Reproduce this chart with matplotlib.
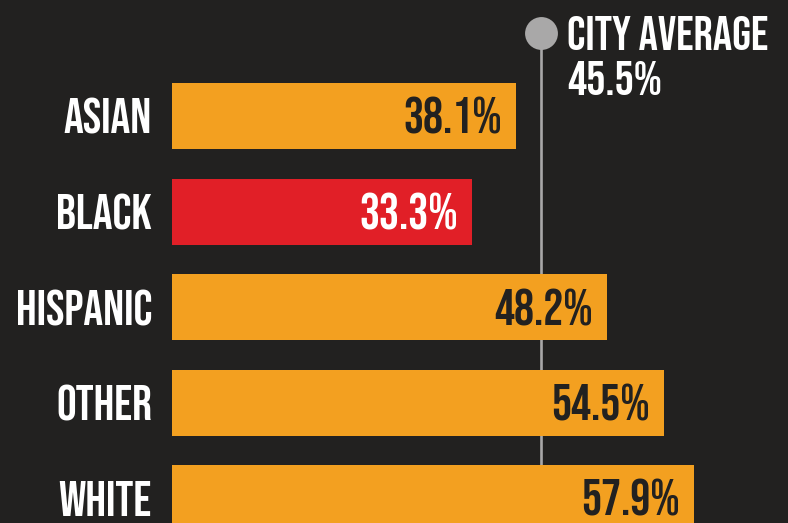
import matplotlib
matplotlib.use("Agg")
import matplotlib.pyplot as plt

# data
groups = ["ASIAN", "BLACK", "HISPANIC", "OTHER", "WHITE"]
rates = [38.1, 33.3, 48.2, 54.5, 57.9]
bar_colors = ["#F3A020", "#E11F27", "#F3A020", "#F3A020", "#F3A020"]
label_colors = ["#222120", "white", "#222120", "#222120", "#222120"]
city_avg = 45.5
city_avg_marker = 40.9   # where the graphic actually draws the marker line

bg = "#222120"
grey = "#A9A8A8"
fam = ["Bebas Neue", "DejaVu Sans"]

W, H = 788, 523
fig = plt.figure(figsize=(W / 100, H / 100), dpi=100, facecolor=bg)

# axes starts where the bars start (x=172px); 9.02 px per percent
x0 = 172
ppx = 9.02
step = 95.5
ax = fig.add_axes([x0 / W, 0, (W - x0) / W, 1])
ax.set_facecolor(bg)
ax.set_xlim(0, (W - x0) / ppx)
ax.set_ylim((H - 116) / step, -116 / step)
ax.axis("off")

# city average marker: dot + line running behind the bars
dot_y = (33 - 116) / step
ax.plot([city_avg_marker, city_avg_marker], [dot_y, 10], color=grey, lw=1.9,
        zorder=1, clip_on=False, solid_capstyle="butt")
ax.scatter([city_avg_marker], [dot_y], s=560, color=grey, zorder=3,
           clip_on=False, linewidths=0)

ypos = list(range(len(groups)))
ax.barh(ypos, rates, height=66 / step, color=bar_colors, zorder=2, clip_on=False)

base = 18 / step   # baseline sits 18px below bar centre
for y, g, r, lc in zip(ypos, groups, rates, label_colors):
    ax.text(-20 / ppx, y + base, g, ha="right", va="baseline", color="white",
            fontsize=35.5, family=fam, clip_on=False)
    ax.text(r - 14 / ppx, y + base, f"{r}%", ha="right", va="baseline",
            color=lc, fontsize=36, family=fam, zorder=4, clip_on=False)

tx = city_avg_marker + 26 / ppx
ax.text(tx, (50 - 116) / step, "CITY AVERAGE", ha="left", va="baseline",
        color="white", fontsize=34.5, family=fam)
ax.text(tx, (95 - 116) / step, f"{city_avg}%", ha="left", va="baseline",
        color="white", fontsize=34.5, family=fam)

fig.savefig("out.png", dpi=100, facecolor=bg)
